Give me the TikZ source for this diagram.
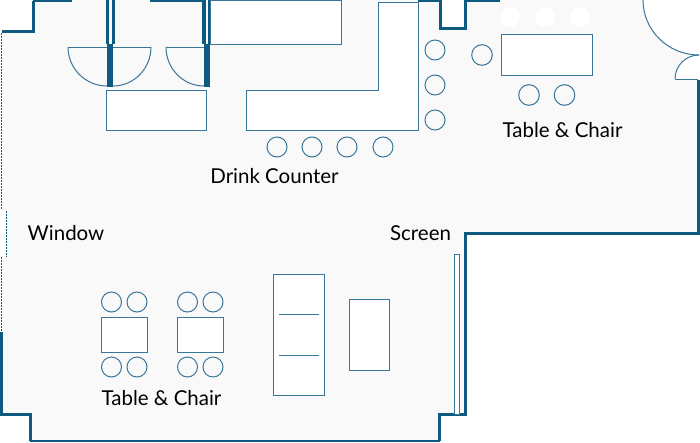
\documentclass[tikz,border=0pt]{standalone}
\usepackage{fontspec}
\setmainfont{Lato}
\definecolor{wallc}{HTML}{0F5A7F}
\definecolor{linec}{HTML}{3A769A}
\definecolor{floorc}{HTML}{F9F9F9}
\tikzset{
  x=1pt,y=-1pt,
  wall/.style={draw=wallc,line width=3pt,line cap=square},
  thin line/.style={draw=linec,line width=1pt},
  furn/.style={thin line,fill=white},
  stool/.style={thin line,fill=floorc},
  label text/.style={text=black,font=\fontsize{20.5}{24}\selectfont,inner sep=0pt,anchor=base},
}
\begin{document}
\begin{tikzpicture}
\useasboundingbox (0,0) rectangle (700,442);
\fill[white] (0,0) rectangle (700,442);
% floor
\fill[floorc] (1,31) -- (33,31) -- (33,0) -- (439,0) -- (439,28) -- (465,28) -- (465,0) -- (700,0)
  -- (700,233) -- (465,233) -- (465,414) -- (439,414) -- (439,441) -- (30,441) -- (30,414) -- (1,414) -- cycle;
% right door openings
\fill[white] (643,0) arc[start angle=180,end angle=270,x radius=56,y radius=-55] -- (700,55) -- (700,0) -- cycle;
\fill[white] (675,79) arc[start angle=180,end angle=90,x radius=24,y radius=-24] -- (700,55) -- (700,79) -- cycle;
\fill[white] (0,210) rectangle (6,257);
% outer walls
\draw[wall] (1.5,31.5) -- (33,31.5) -- (33,1);
\draw[wall] (33,0.5) -- (72,0.5);
\draw[wall,line cap=butt] (150,0.5) -- (204,0.5);
\draw[wall,line cap=butt] (418,0.5) -- (440,0.5) -- (440,28.5) -- (465,28.5) -- (465,0.5) -- (500,0.5);
\draw[wall] (698.5,80) -- (698.5,233.5) -- (465.5,233.5) -- (465.5,414.5) -- (439.5,414.5) -- (439.5,441);
\draw[wall,line width=1.6pt,line cap=butt] (439.5,441.2) -- (30,441.2);
\draw[wall,line cap=butt] (30,441) -- (30,414.5) -- (1.5,414.5) -- (1.5,332);
% window
\draw[wallc,line width=0.9pt,dash pattern=on 1.5pt off 1.5pt] (1,33) -- (1,210);
\draw[wallc,line width=0.9pt,dash pattern=on 1.5pt off 1.5pt] (1,257) -- (1,332);
\draw[wallc,line width=0.9pt,dash pattern=on 1.5pt off 1.5pt] (6,211) -- (6,257);
% door swings
\draw[thin line] (68,47) -- (151,47);
\draw[thin line] (166,47) -- (204,47);
\draw[thin line] (68,47) arc[start angle=180,end angle=270,x radius=39,y radius=-39];
\draw[thin line] (151,47) arc[start angle=0,end angle=-90,x radius=38,y radius=-39];
\draw[thin line] (166,47) arc[start angle=180,end angle=270,x radius=38,y radius=-39];
\draw[thin line] (643,0) arc[start angle=180,end angle=270,x radius=56,y radius=-55];
\draw[thin line] (675,79) arc[start angle=180,end angle=90,x radius=24,y radius=-24];
\draw[thin line] (675,79) -- (698,79);
% door jambs
\fill[wallc] (105.5,0) rectangle (109,44);
\fill[wallc] (112,0) rectangle (114.5,44);
\fill[wallc] (107,44) rectangle (113,86.5);
\fill[wallc] (202,0) rectangle (205.5,44);
\fill[wallc] (208,0) rectangle (210.5,44);
\fill[wallc] (204,44) rectangle (210,86.5);
% furniture
\path[furn] (210.5,0.5) rectangle (341,44.5);
\path[furn] (106.5,90) rectangle (206.5,130);
\path[furn] (246.5,90) -- (378,90) -- (378,2) -- (418,2) -- (418,130) -- (246.5,130) -- cycle;
\path[furn] (501.5,34.5) rectangle (592,75);
\path[furn] (273.5,274.5) rectangle (324,395);
\draw[thin line] (279,314.5) -- (319,314.5);
\draw[thin line] (279,355) -- (319,355);
\path[furn] (349,299.5) rectangle (389,370);
\path[furn] (101,317) rectangle (147,352);
\path[furn] (177.5,317) rectangle (223,352);
\path[furn] (454.8,254) rectangle (459.5,414);
% stools
\foreach \x in {277,312,347,383} \path[stool] (\x,147) circle[radius=10];
\foreach \y in {50,85,120} \path[stool] (435,\y) circle[radius=10];
\path[stool] (482,55) circle[radius=10.3];
\foreach \x in {529,564.5} \path[stool] (\x,95) circle[radius=10.3];
\foreach \x in {510,545,580} \fill[white] (\x,17) circle[radius=10];
\foreach \x in {111.5,137,187.5,213} \foreach \y in {302,367} \path[stool] (\x,\y) circle[radius=10];
% labels
\node[label text] (counter) at (274.5,183) {Drink Counter};
\node[label text] (tabletop) at (562.5,137) {Table \& Chair};
\node[label text] (window) at (66,240) {Window};
\node[label text] (screen) at (420.5,240) {Screen};
\node[label text] (tablelow) at (161.5,405) {Table \& Chair};
\end{tikzpicture}
\end{document}
